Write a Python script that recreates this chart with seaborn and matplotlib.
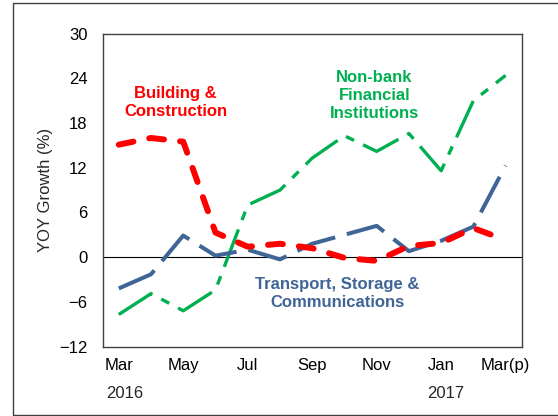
import pandas as pd
import seaborn as sns
import matplotlib.pyplot as plt
from matplotlib.patches import Rectangle

# Monthly YOY growth, Mar 2016 - Mar 2017
months = ['Mar', 'Apr', 'May', 'Jun', 'Jul', 'Aug', 'Sep',
          'Oct', 'Nov', 'Dec', 'Jan', 'Feb', 'Mar(p)']
building = [15.1, 16.0, 15.5, 3.3, 1.4, 1.8, 1.2, -0.1, -0.5, 1.5, 1.9, 3.9, 2.3]
nonbank = [-7.7, -4.9, -7.2, -4.4, 7.0, 9.0, 13.3, 16.3, 14.2, 16.6, 11.6, 21.0, 24.4]
transport = [-4.2, -2.3, 2.9, 0.2, 1.0, -0.3, 1.8, 3.0, 4.2, 0.8, 2.2, 4.1, 12.3]

tick_labels = ['Mar', '', 'May', '', 'Jul', '', 'Sep', '', 'Nov', '', 'Jan', '', 'Mar(p)']
y_ticks = [-12, -6, 0, 6, 12, 18, 24, 30]

data = pd.DataFrame({
    'idx': list(range(len(months))),
    'month': months,
    'Building & Construction': building,
    'Non-bank Financial Institutions': nonbank,
    'Transport, Storage & Communications': transport,
})

sns.set_style('white')
plt.rcParams['font.family'] = ['Liberation Sans', 'DejaVu Sans']

fig = plt.figure(figsize=(5.58, 4.16), dpi=100)
ax = fig.add_axes([0.184, 0.167, 0.751, 0.752])

red = '#FF0000'
green = '#00B050'
blue = '#3F6596'

ax.axhline(0, color='black', lw=0.8, zorder=1)

sns.lineplot(data=data, x='idx', y='Transport, Storage & Communications', ax=ax,
             color=blue, lw=2.9, linestyle=(0, (10, 3)), zorder=3)
sns.lineplot(data=data, x='idx', y='Non-bank Financial Institutions', ax=ax,
             color=green, lw=2.4, linestyle=(0, (12, 3, 2.7, 3)), zorder=2)
sns.lineplot(data=data, x='idx', y='Building & Construction', ax=ax,
             color=red, lw=4.3, linestyle=(0, (2.5, 2.7)),
             dash_capstyle='round', zorder=4)

ax.set_xlim(-0.5, len(months) - 0.5)
ax.set_ylim(-12, 30)
ax.set_xticks(range(len(months)))
ax.set_xticklabels(tick_labels)
ax.set_yticks(y_ticks)
ax.tick_params(axis='both', direction='inout', length=8, width=1,
               labelsize=12, colors='black')
ax.tick_params(axis='x', pad=4)
ax.tick_params(axis='y', pad=7)
ax.set_xlabel('')
ax.set_ylabel('YOY Growth (%)', fontsize=12, labelpad=4)

for s in ax.spines.values():
    s.set_color('#404040')
    s.set_linewidth(1.0)

# series labels
ax.text(1.76, 20.8, 'Building &\nConstruction', color=red, fontsize=12,
        fontweight='bold', ha='center', va='center', linespacing=1.25)
ax.text(7.93, 21.7, 'Non-bank\nFinancial\nInstitutions', color=green, fontsize=12,
        fontweight='bold', ha='center', va='center', linespacing=1.25)
ax.text(6.78, -4.9, 'Transport, Storage &\nCommunications', color=blue, fontsize=12,
        fontweight='bold', ha='center', va='center', linespacing=1.25)

# year labels under the axis
fig.text(125 / 558, 1 - 394 / 416, '2016', fontsize=12, ha='center', va='center')
fig.text(446 / 558, 1 - 394 / 416, '2017', fontsize=12, ha='center', va='center')

# outer frame
fig.patches.append(Rectangle((12.5 / 558, 1 / 416), 0.99, 412 / 416,
                             transform=fig.transFigure, fill=False,
                             edgecolor='#404040', lw=1.0))

fig.savefig('out.png', dpi=100)
